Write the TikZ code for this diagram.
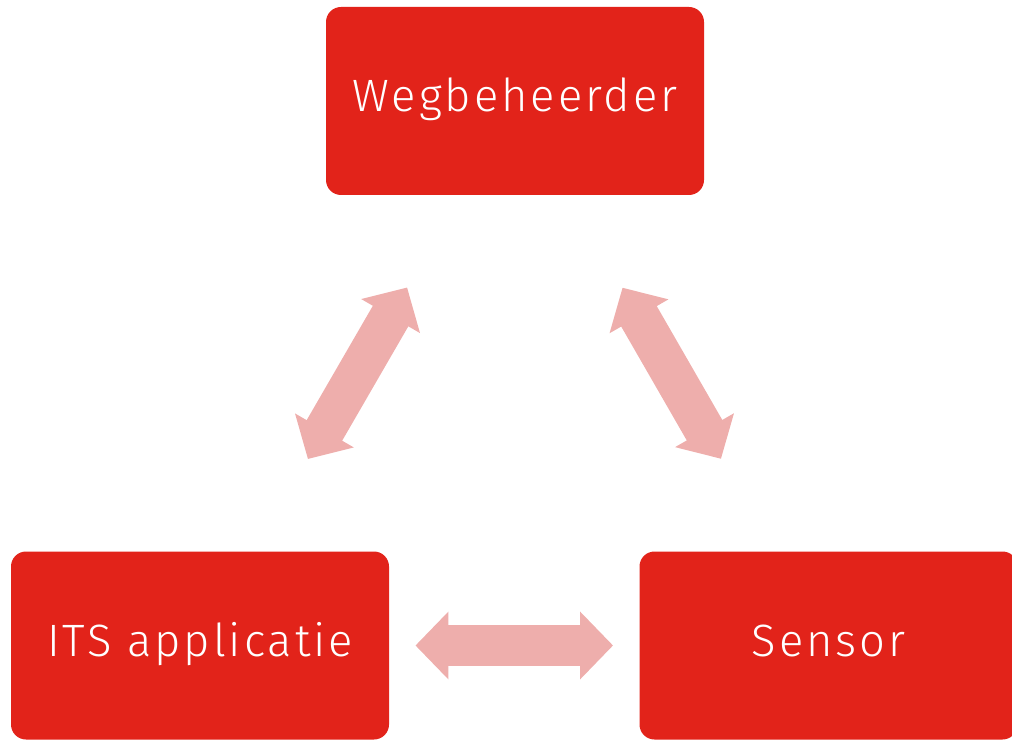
\documentclass[tikz,border=0pt]{standalone}
\usepackage{fontspec}
\newfontfamily\boxfont[LetterSpace=6.5]{Fira Sans Light}
\usetikzlibrary{arrows.meta}
\definecolor{itsred}{HTML}{E2231A}
\definecolor{linkpink}{HTML}{EEAEAC}

\begin{document}
\begin{tikzpicture}[x=0.75pt,y=0.75pt,
  role/.style={fill=itsred, text=white, rounded corners=11.25pt, inner sep=0pt,
    minimum width=283.5pt, minimum height=141pt,
    font=\boxfont\fontsize{34}{40}\selectfont, text height=24pt, text depth=7.5pt},
  link/.style={draw=linkpink, line width=30.75pt,
    {Triangle[length=24.75pt,width=49.5pt]}-{Triangle[length=24.75pt,width=49.5pt]},
    shorten <=161.6pt, shorten >=161.6pt}]
  \useasboundingbox (0,0) rectangle (1012,739);

  \node[role] (wegb) at (515,638) {Wegbeheerder};
  \node[role] (its) at (200,93.5) {ITS applicatie};
  \node[role] (sensor) at (828.5,93.5) {Sensor};

  \draw[link] (wegb.center) -- (its.center);
  \draw[link] (wegb.center) -- (sensor.center);
  \draw[link] (its.center) -- (sensor.center);
\end{tikzpicture}
\end{document}
